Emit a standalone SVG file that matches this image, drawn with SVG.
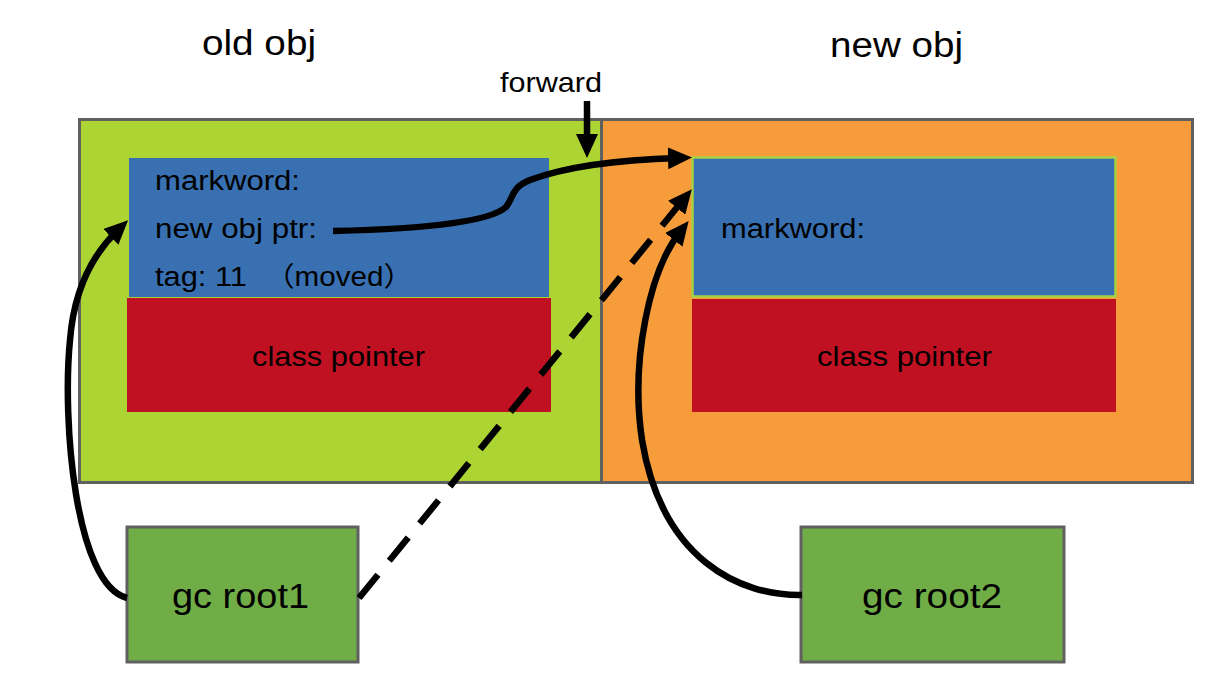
<svg xmlns="http://www.w3.org/2000/svg" width="1232" height="698" viewBox="0 0 1232 698">
  <style>
    text { font-family: "Liberation Sans", Arial, "Noto Sans CJK SC", sans-serif; fill: #000; }
    .title { font-size: 35px; }
    .lbl { font-size: 27px; }
    .small { font-size: 28px; }
    .outer { stroke: #606060; stroke-width: 3; }
    .blue { fill: #3870b2; }
    .red { fill: #c01123; }
    .root { fill: #70ad47; stroke: #606060; stroke-width: 3; }
    .conn { fill: none; stroke: #000; stroke-width: 6.5; }
    .dash { stroke-dasharray: 30 18; }
  </style>
  <defs>
    <marker id="ah" viewBox="0 0 24 22" refX="10" refY="11" markerWidth="24" markerHeight="22" markerUnits="userSpaceOnUse" orient="auto">
      <path d="M0,0 L24,11 L0,22 z" fill="#000"/>
    </marker>
  </defs>
  <rect width="1232" height="698" fill="#ffffff"/>

  <text class="title" x="202" y="55" textLength="114" lengthAdjust="spacingAndGlyphs">old obj</text>
  <text class="title" x="830" y="57" textLength="133" lengthAdjust="spacingAndGlyphs">new obj</text>
  <text class="small" x="500" y="92" textLength="102" lengthAdjust="spacingAndGlyphs">forward</text>

  <g id="old-obj">
    <rect class="outer" x="79.5" y="119.5" width="522" height="363" fill="#acd433"/>
    <rect class="blue" x="129" y="158" width="420" height="139"/>
    <rect class="red" x="127" y="298" width="424" height="114"/>
    <text class="lbl" x="155" y="190" textLength="145" lengthAdjust="spacingAndGlyphs">markword:</text>
    <text class="lbl" x="155" y="238" textLength="162" lengthAdjust="spacingAndGlyphs">new obj ptr:</text>
    <text class="lbl" y="286"><tspan x="155" textLength="92" lengthAdjust="spacingAndGlyphs">tag: 11</tspan> <tspan x="265" textLength="148" lengthAdjust="spacingAndGlyphs">（moved）</tspan></text>
    <text class="lbl" x="252" y="366" textLength="173" lengthAdjust="spacingAndGlyphs">class pointer</text>
  </g>

  <g id="new-obj">
    <rect class="outer" x="601.5" y="119.5" width="591" height="363" fill="#f79c3b"/>
    <rect class="blue" x="692.5" y="157.5" width="423" height="139" stroke="#a8d043" stroke-width="2.5"/>
    <rect class="red" x="692" y="299" width="424" height="113"/>
    <text class="lbl" x="721" y="238" textLength="144" lengthAdjust="spacingAndGlyphs">markword:</text>
    <text class="lbl" x="817" y="366" textLength="175" lengthAdjust="spacingAndGlyphs">class pointer</text>
  </g>

  <g id="gc-root1">
    <rect class="root" x="127" y="527" width="231" height="135"/>
    <text class="title" x="172" y="608" textLength="137" lengthAdjust="spacingAndGlyphs">gc root1</text>
  </g>

  <g id="gc-root2">
    <rect class="root" x="801" y="527" width="263" height="135"/>
    <text class="title" x="862" y="608" textLength="140" lengthAdjust="spacingAndGlyphs">gc root2</text>
  </g>

  <g id="connectors">
    <path class="conn" d="M587,101 L587,144" marker-end="url(#ah)"/>
    <path class="conn" d="M333,231 C420,229 490,222 506,207 C514,198 510,188 530,180 C565,167 610,160 678,158" marker-end="url(#ah)"/>
    <path class="conn" d="M127,598 C75,585 62,420 70,340 C74,290 92,255 118,230" marker-end="url(#ah)"/>
    <path class="conn dash" d="M359,598 L683,200" marker-end="url(#ah)"/>
    <path class="conn" d="M802,595 C740,596 662,560 642,440 C630,360 650,270 680,232" marker-end="url(#ah)"/>
  </g>
</svg>
